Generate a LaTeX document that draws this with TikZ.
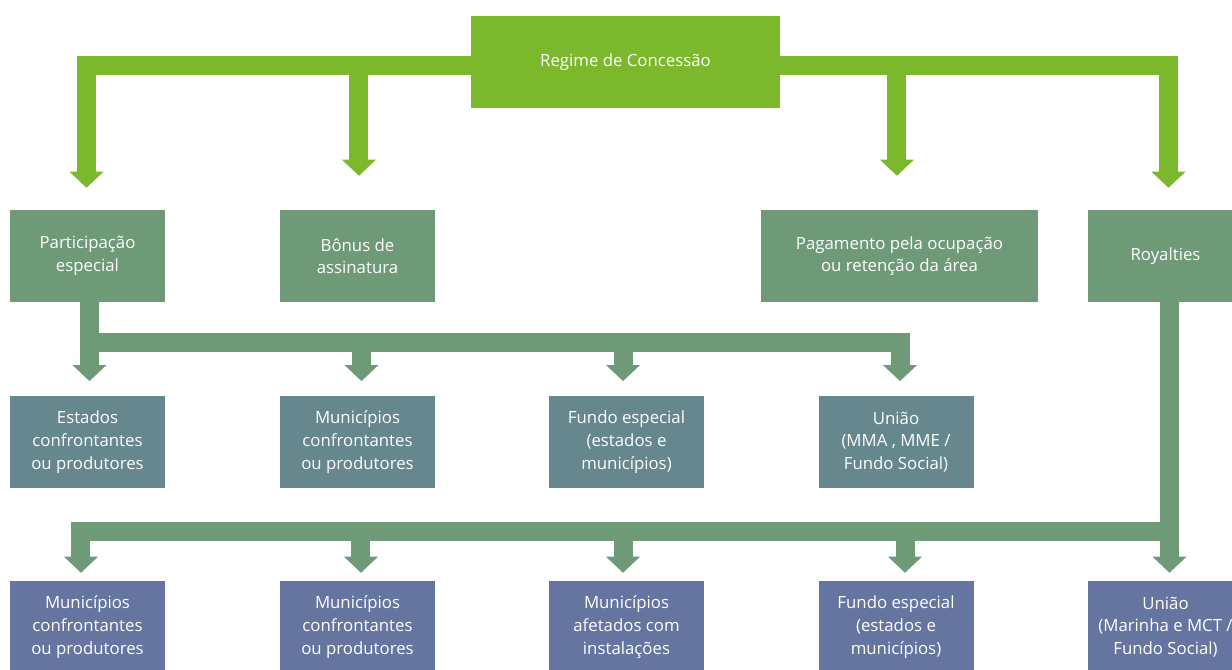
\documentclass[tikz,border=0pt]{standalone}
\usepackage{fontspec}
\setmainfont{Open Sans}
\usetikzlibrary{arrows.meta}
\definecolor{lvlone}{RGB}{124,184,44}
\definecolor{lvltwo}{RGB}{110,154,120}
\definecolor{lvlthree}{RGB}{102,135,142}
\definecolor{lvlfour}{RGB}{102,117,160}
\begin{document}
\begin{tikzpicture}[x=0.75pt,y=-0.75pt]
        \tikzset{box/.style = {shape=rectangle,text=white,align=center,inner sep=0pt,minimum width=116.25pt,minimum height=69pt,font=\fontsize{12.6}{17}\selectfont}};
        \tikzset{fat/.style = {line width=14.25pt,-{Triangle[width=25.5pt,length=12pt,line width=0pt]}}};
        \useasboundingbox (0,0) rectangle (1232,669);
        \node[box,fill=lvlone,minimum width=231.75pt] (a) at (625.5,62) {Regime de Concessão};
        \node[box,fill=lvltwo] (b) at (87.5,256) {Participação\\especial};
        \node[box,fill=lvltwo] (c) at (357.5,256) {Bônus de\\assinatura};
        \node[box,fill=lvltwo,minimum width=207.75pt] (d) at (899.5,256) {Pagamento pela ocupação\\ou retenção da área};
        \node[box,fill=lvltwo] (e) at (1165.5,256) {Royalties};
        \node[box,fill=lvlthree] (f) at (87.5,442) {Estados\\confrontantes\\ou produtores};
        \node[box,fill=lvlthree] (g) at (357.5,442) {Municípios\\confrontantes\\ou produtores};
        \node[box,fill=lvlthree] (h) at (626.5,442) {Fundo especial\\(estados e\\municípios)};
        \node[box,fill=lvlthree] (i) at (896,442) {União\\(MMA , MME /\\Fundo Social)};
        \node[box,fill=lvlfour] (j) at (87.5,627) {Municípios\\confrontantes\\ou produtores};
        \node[box,fill=lvlfour] (k) at (357.5,627) {Municípios\\confrontantes\\ou produtores};
        \node[box,fill=lvlfour] (l) at (626.5,627) {Municípios\\afetados com\\instalações};
        \node[box,fill=lvlfour] (m) at (896,627) {Fundo especial\\(estados e\\municípios)};
        \node[box,fill=lvlfour] (n) at (1165.5,627) {União\\(Marinha e MCT /\\Fundo Social)};
        \draw[fat,lvlone,shorten >=16.5pt] ([yshift=-2.25pt]a.west) -| ([xshift=-0.75pt]b.north);
        \draw[fat,lvlone,shorten >=25.5pt] ([yshift=-2.25pt]a.west) -| ([xshift=1.1pt]c.north);
        \draw[fat,lvlone,shorten >=25.5pt] ([yshift=-2.25pt]a.east) -| ([xshift=-1.9pt]d.north);
        \draw[fat,lvlone,shorten >=16.5pt] ([yshift=-2.25pt]a.east) -| ([xshift=2.25pt]e.north);
        \draw[fat,lvltwo,shorten >=11pt] ([xshift=1.5pt]b.south) -- ([xshift=1.5pt]f.north);
        \draw[fat,lvltwo,shorten >=11pt] ([xshift=1.5pt]b.south) -- ++(0,40.5) -| ([xshift=3pt]g.north);
        \draw[fat,lvltwo,shorten >=11pt] ([xshift=1.5pt]b.south) -- ++(0,40.5) -| ([xshift=-2.6pt]h.north);
        \draw[fat,lvltwo,shorten >=11pt] ([xshift=1.5pt]b.south) -- ++(0,40.5) -| ([xshift=3pt]i.north);
        \draw[fat,lvltwo,shorten >=6pt] ([xshift=3pt]e.south) -- ([xshift=3pt]n.north);
        \draw[fat,lvltwo,shorten >=6pt] ([xshift=3pt]e.south) -- ++(0,229.5) -| ([xshift=-4.9pt]j.north);
        \draw[fat,lvltwo,shorten >=6pt] ([xshift=3pt]e.south) -- ++(0,229.5) -| ([xshift=2.6pt]k.north);
        \draw[fat,lvltwo,shorten >=6pt] ([xshift=3pt]e.south) -- ++(0,229.5) -| ([xshift=-2.6pt]l.north);
        \draw[fat,lvltwo,shorten >=6pt] ([xshift=3pt]e.south) -- ++(0,229.5) -| ([xshift=6.75pt]m.north);
    \end{tikzpicture}
\end{document}
